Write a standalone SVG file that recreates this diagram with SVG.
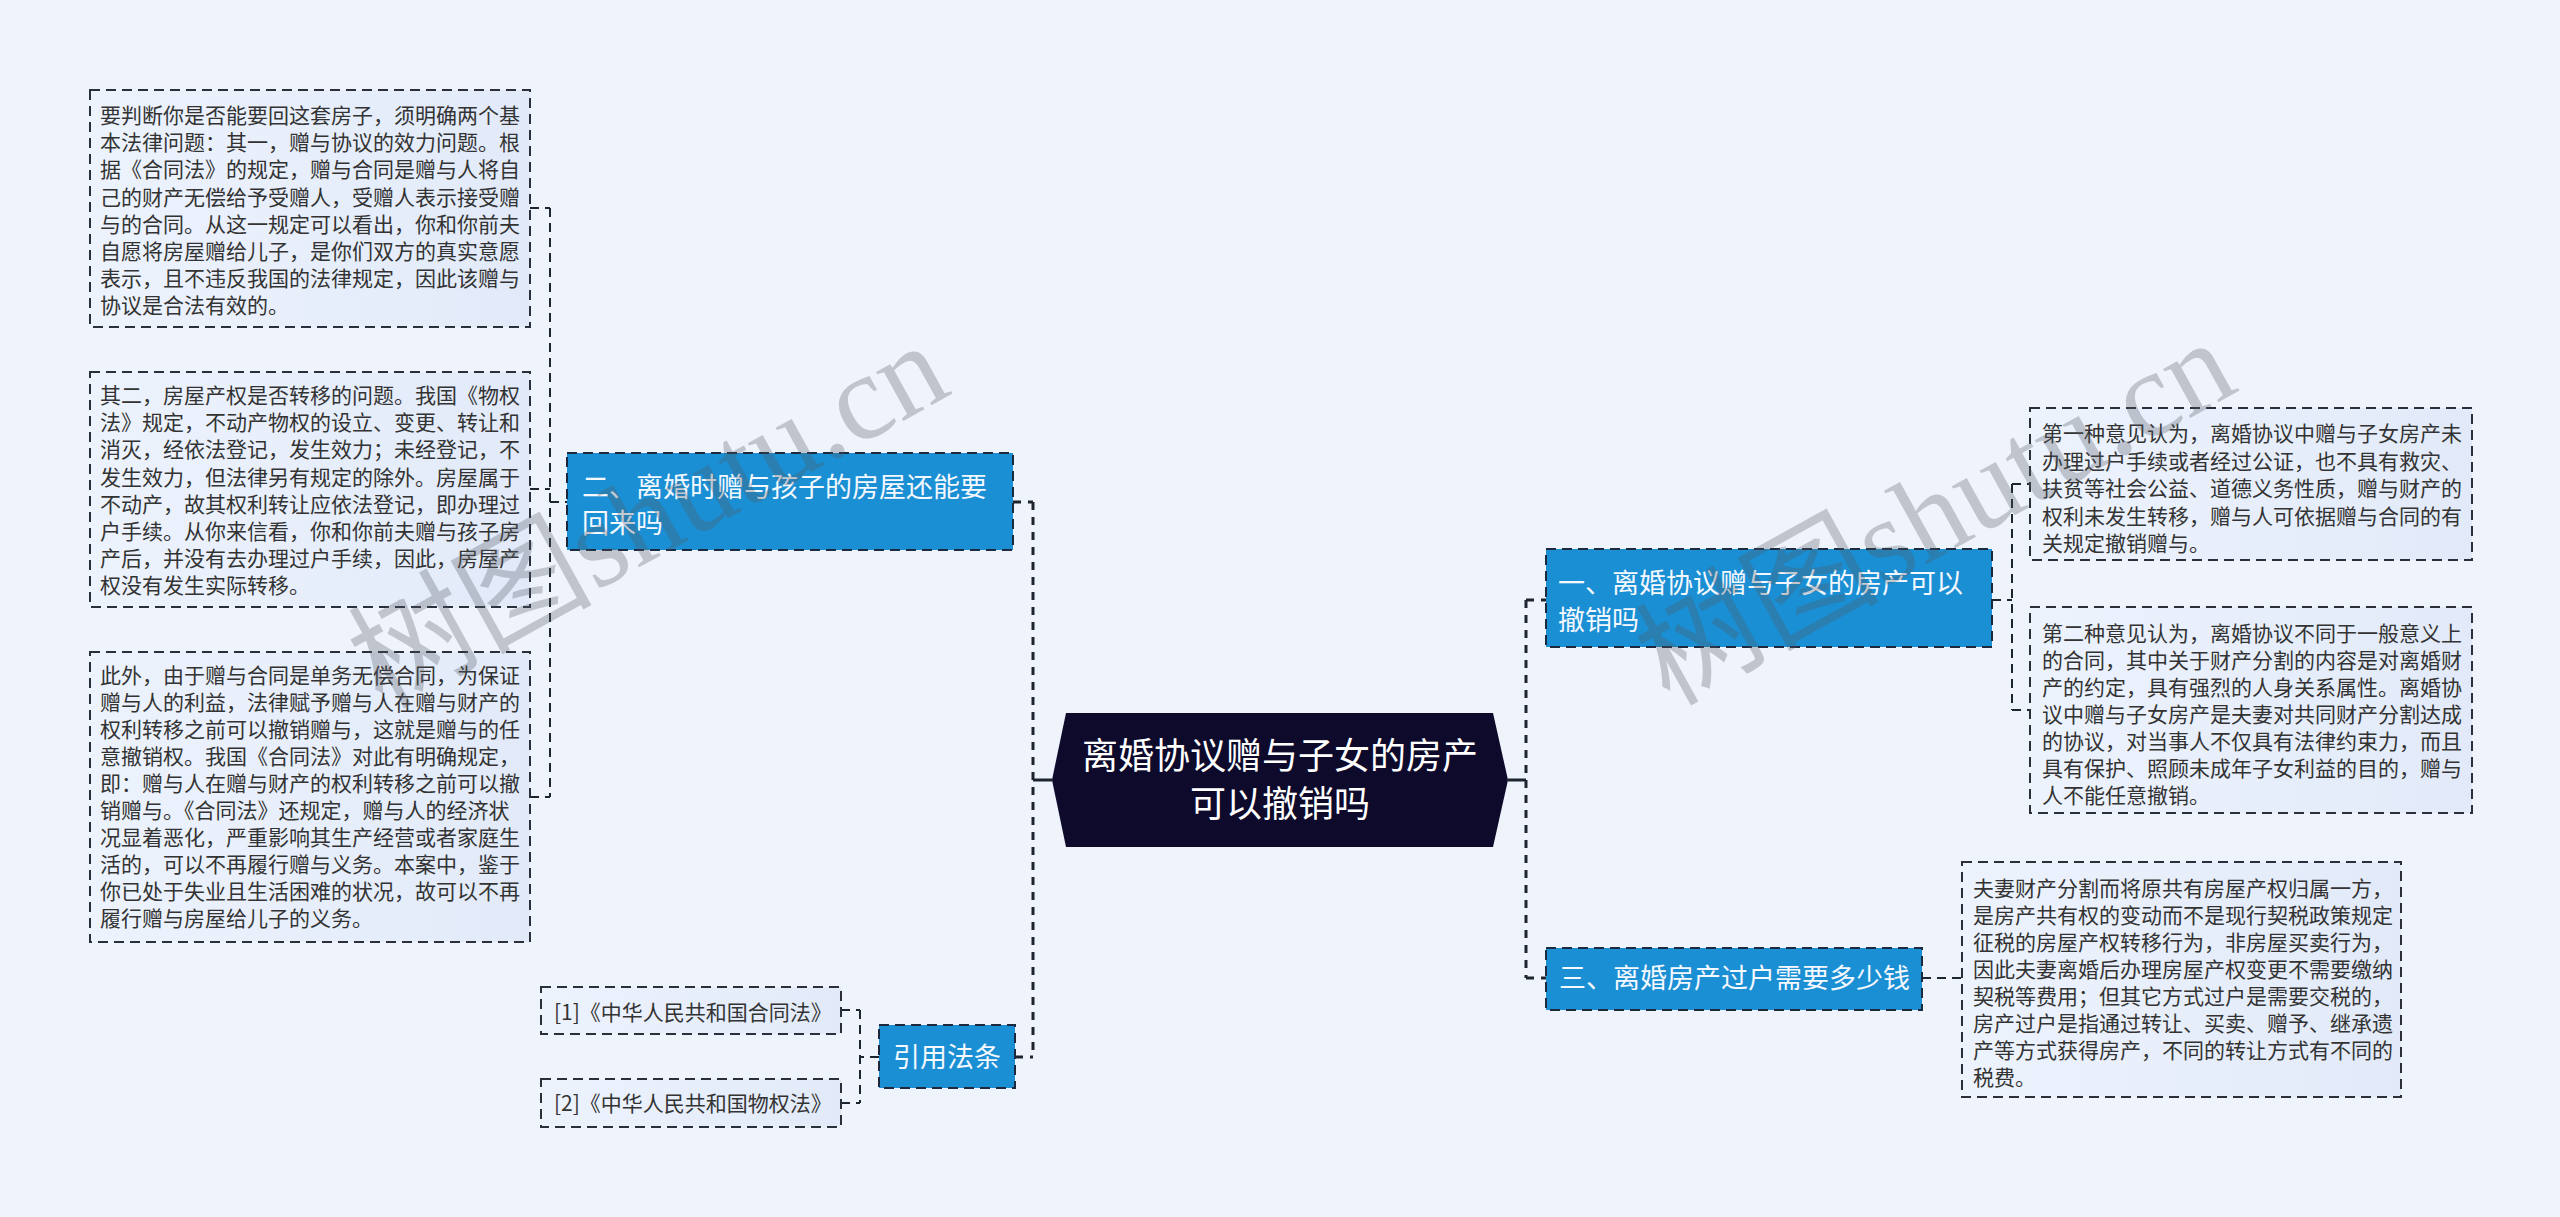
<svg xmlns="http://www.w3.org/2000/svg" width="2560" height="1217" viewBox="0 0 2560 1217">
<defs>
<linearGradient id="leafg" x1="0" y1="0" x2="1" y2="0">
<stop offset="0" stop-color="#edf3fd"/>
<stop offset="1" stop-color="#e2eaf9"/>
</linearGradient>
<style>
.leaf{fill:url(#leafg);stroke:#2a2f3a;stroke-width:2;stroke-dasharray:10 6}
.branch{fill:#1a8fd3;stroke:#1c2a40;stroke-width:2;stroke-dasharray:10 6}
.lt{font-family:"Noto Sans CJK SC","Liberation Sans",sans-serif;font-size:21px;fill:#333333}
.bt{font-family:"Noto Sans CJK SC","Liberation Sans",sans-serif;font-size:27px;fill:#f4f8ff}
.ct{font-family:"Noto Sans CJK SC","Liberation Sans",sans-serif;font-size:36px;fill:#ffffff}
.dash{fill:none;stroke:#1e2430;stroke-width:2;stroke-dasharray:9 6}
.dashb{fill:none;stroke:#1e2430;stroke-width:3;stroke-dasharray:8 7}
.solid{fill:none;stroke:#1e2430;stroke-width:3}
.wm{font-family:"Liberation Serif","Noto Sans CJK SC",serif;font-size:122px;fill:#555a63;opacity:0.3}
</style>
</defs>
<rect x="0" y="0" width="2560" height="1217" fill="#eef3fc"/>

<g id="connectors">
<path class="dash" d="M530 208H550M530 489H550M530 797H550M550 208V797M550 502H567"/>
<path class="dashb" d="M1013 502H1033M1033 502V1057M1015 1057H1033"/>
<path class="solid" d="M1033 780H1052"/>
<path class="dash" d="M879 1057H860M860 1010V1103M841 1010H860M841 1103H860"/>
<path class="solid" d="M1508 780H1526"/>
<path class="dashb" d="M1526 600V978M1526 600H1546M1526 978H1546"/>
<path class="dash" d="M1992 600H2012M2012 484V710M2012 484H2030M2012 710H2030"/>
<path class="dash" d="M1922 978H1962"/>
</g>

<g id="center">
<polygon points="1066,713 1493,713 1508,780 1493,847 1066,847 1052,780" fill="#0d0a2c"/>
<text class="ct" x="1280" y="769" text-anchor="middle">离婚协议赠与子女的房产</text>
<text class="ct" x="1280" y="817" text-anchor="middle">可以撤销吗</text>
</g>

<g id="b2">
<rect class="branch" x="567" y="453" width="446" height="97"/>
<text class="bt" x="582" y="497">二、离婚时赠与孩子的房屋还能要</text>
<text class="bt" x="582" y="533">回来吗</text>
</g>

<g id="leaf1">
<rect class="leaf" x="90" y="90" width="440" height="237"/>
<text class="lt" x="100" y="123">要判断你是否能要回这套房子，须明确两个基</text>
<text class="lt" x="100" y="150.2">本法律问题：其一，赠与协议的效力问题。根</text>
<text class="lt" x="100" y="177.4">据《合同法》的规定，赠与合同是赠与人将自</text>
<text class="lt" x="100" y="204.6">己的财产无偿给予受赠人，受赠人表示接受赠</text>
<text class="lt" x="100" y="231.8">与的合同。从这一规定可以看出，你和你前夫</text>
<text class="lt" x="100" y="259">自愿将房屋赠给儿子，是你们双方的真实意愿</text>
<text class="lt" x="100" y="286.2">表示，且不违反我国的法律规定，因此该赠与</text>
<text class="lt" x="100" y="313.4">协议是合法有效的。</text>
</g>

<g id="leaf2">
<rect class="leaf" x="90" y="372" width="440" height="235"/>
<text class="lt" x="100" y="403">其二，房屋产权是否转移的问题。我国《物权</text>
<text class="lt" x="100" y="430.2">法》规定，不动产物权的设立、变更、转让和</text>
<text class="lt" x="100" y="457.4">消灭，经依法登记，发生效力；未经登记，不</text>
<text class="lt" x="100" y="484.6">发生效力，但法律另有规定的除外。房屋属于</text>
<text class="lt" x="100" y="511.8">不动产，故其权利转让应依法登记，即办理过</text>
<text class="lt" x="100" y="539">户手续。从你来信看，你和你前夫赠与孩子房</text>
<text class="lt" x="100" y="566.2">产后，并没有去办理过户手续，因此，房屋产</text>
<text class="lt" x="100" y="593.4">权没有发生实际转移。</text>
</g>

<g id="leaf3">
<rect class="leaf" x="90" y="652" width="440" height="290"/>
<text class="lt" x="100" y="683">此外，由于赠与合同是单务无偿合同，为保证</text>
<text class="lt" x="100" y="710">赠与人的利益，法律赋予赠与人在赠与财产的</text>
<text class="lt" x="100" y="737">权利转移之前可以撤销赠与，这就是赠与的任</text>
<text class="lt" x="100" y="764">意撤销权。我国《合同法》对此有明确规定，</text>
<text class="lt" x="100" y="791">即：赠与人在赠与财产的权利转移之前可以撤</text>
<text class="lt" x="100" y="818">销赠与。《合同法》还规定，赠与人的经济状</text>
<text class="lt" x="100" y="845">况显着恶化，严重影响其生产经营或者家庭生</text>
<text class="lt" x="100" y="872">活的，可以不再履行赠与义务。本案中，鉴于</text>
<text class="lt" x="100" y="899">你已处于失业且生活困难的状况，故可以不再</text>
<text class="lt" x="100" y="926">履行赠与房屋给儿子的义务。</text>
</g>

<g id="b4">
<rect class="branch" x="879" y="1025" width="136" height="63"/>
<text class="bt" x="947" y="1067" text-anchor="middle">引用法条</text>
</g>

<g id="ref1">
<rect class="leaf" x="541" y="987" width="300" height="47"/>
<text class="lt" x="554" y="1020">[1]《中华人民共和国合同法》</text>
</g>

<g id="ref2">
<rect class="leaf" x="541" y="1079" width="300" height="48"/>
<text class="lt" x="554" y="1111">[2]《中华人民共和国物权法》</text>
</g>

<g id="b1">
<rect class="branch" x="1546" y="549" width="446" height="98"/>
<text class="bt" x="1558" y="593">一、离婚协议赠与子女的房产可以</text>
<text class="bt" x="1558" y="630">撤销吗</text>
</g>

<g id="leaf4">
<rect class="leaf" x="2030" y="408" width="442" height="152"/>
<text class="lt" x="2042" y="441">第一种意见认为，离婚协议中赠与子女房产未</text>
<text class="lt" x="2042" y="468.5">办理过户手续或者经过公证，也不具有救灾、</text>
<text class="lt" x="2042" y="496">扶贫等社会公益、道德义务性质，赠与财产的</text>
<text class="lt" x="2042" y="523.5">权利未发生转移，赠与人可依据赠与合同的有</text>
<text class="lt" x="2042" y="551">关规定撤销赠与。</text>
</g>

<g id="leaf5">
<rect class="leaf" x="2030" y="607" width="442" height="206"/>
<text class="lt" x="2042" y="641">第二种意见认为，离婚协议不同于一般意义上</text>
<text class="lt" x="2042" y="668">的合同，其中关于财产分割的内容是对离婚财</text>
<text class="lt" x="2042" y="695">产的约定，具有强烈的人身关系属性。离婚协</text>
<text class="lt" x="2042" y="722">议中赠与子女房产是夫妻对共同财产分割达成</text>
<text class="lt" x="2042" y="749">的协议，对当事人不仅具有法律约束力，而且</text>
<text class="lt" x="2042" y="776">具有保护、照顾未成年子女利益的目的，赠与</text>
<text class="lt" x="2042" y="803">人不能任意撤销。</text>
</g>

<g id="b3">
<rect class="branch" x="1546" y="948" width="376" height="62"/>
<text class="bt" x="1559" y="988">三、离婚房产过户需要多少钱</text>
</g>

<g id="leaf6">
<rect class="leaf" x="1962" y="862" width="439" height="235"/>
<text class="lt" x="1973" y="896">夫妻财产分割而将原共有房屋产权归属一方，</text>
<text class="lt" x="1973" y="923">是房产共有权的变动而不是现行契税政策规定</text>
<text class="lt" x="1973" y="950">征税的房屋产权转移行为，非房屋买卖行为，</text>
<text class="lt" x="1973" y="977">因此夫妻离婚后办理房屋产权变更不需要缴纳</text>
<text class="lt" x="1973" y="1004">契税等费用；但其它方式过户是需要交税的，</text>
<text class="lt" x="1973" y="1031">房产过户是指通过转让、买卖、赠予、继承遗</text>
<text class="lt" x="1973" y="1058">产等方式获得房产，不同的转让方式有不同的</text>
<text class="lt" x="1973" y="1085">税费。</text>
</g>

<g id="watermarks">
<text class="wm" transform="translate(648,515) rotate(-29)" text-anchor="middle" dominant-baseline="central">树图shutu.cn</text>
<text class="wm" transform="translate(1935,512) rotate(-29)" text-anchor="middle" dominant-baseline="central">树图shutu.cn</text>
</g>
</svg>
